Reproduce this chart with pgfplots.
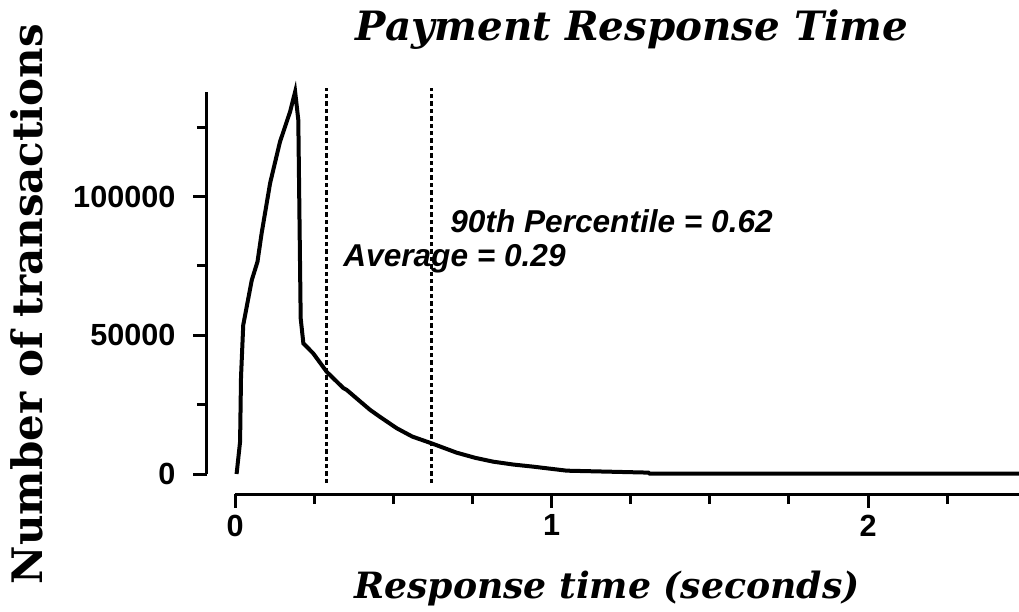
\documentclass[border=0pt]{standalone}
\usepackage{fontspec}
\setmainfont{Liberation Sans}
\newfontfamily\schfont{DejaVu Serif}
\usepackage{pgfplots}
\pgfplotsset{compat=1.18}
\begin{document}
\begin{tikzpicture}
\begin{axis}[
  at={(0,0)}, anchor=south west,
  scale only axis, width=406bp, height=201bp,
  xmin=-0.0885, xmax=2.477, ymin=-7207, ymax=137700,
  axis x line*=bottom, axis y line*=left,
  axis line style={line width=1.5bp, -},
  x axis line style={shorten <=14bp},
  y axis line style={shorten <=10bp},
  xtick={0,1,2}, ytick={0,50000,100000},
  minor xtick={0.25,0.5,0.75,1.25,1.5,1.75,2.25},
  minor ytick={25000,75000,125000},
  tick align=outside,
  major tick length=6.8bp, minor tick length=5bp,
  every tick/.style={line width=1.5bp, black},
  scaled y ticks=false,
  /pgf/number format/assume math mode=true,
  yticklabel style={/pgf/number format/fixed, /pgf/number format/1000 sep={}, xshift=-5.5bp},
  ticklabel style={font=\fontsize{15.3bp}{18bp}\selectfont\bfseries},
  clip=false,
]
\addplot[black, line width=2bp] coordinates {
(0.005,0) (0.016,11600) (0.019,35000) (0.026,53700) (0.037,60300) (0.053,69900)
(0.071,76500) (0.084,86700) (0.111,104900) (0.142,119700) (0.174,130600)
(0.190,137800) (0.200,127600) (0.2075,56100) (0.216,47100) (0.247,43500)
(0.290,36800) (0.342,31000) (0.353,30300) (0.395,26200) (0.427,23100)
(0.458,20600) (0.511,16500) (0.560,13500) (0.621,11060) (0.700,7700)
(0.760,5800) (0.816,4440) (0.880,3400) (0.943,2640) (1.048,1200) (1.306,500)
(1.310,150) (2.477,150)
};
\addplot[black, line width=1.5bp, dash pattern=on 2.2bp off 1.5bp] coordinates {(0.29,-3300) (0.29,139000)};
\addplot[black, line width=1.5bp, dash pattern=on 2.2bp off 1.5bp] coordinates {(0.62,-3300) (0.62,139000)};
\end{axis}
\node[anchor=base west, inner sep=0pt, font=\fontsize{15.8bp}{18bp}\selectfont\bfseries\itshape] at (68bp,113.5bp) {Average = 0.29};
\node[anchor=base west, inner sep=0pt, font=\fontsize{15.8bp}{18bp}\selectfont\bfseries\itshape] at (121.5bp,130.5bp) {90th Percentile = 0.62};
\node[anchor=base, inner sep=0pt, font=\fontsize{20.2bp}{23bp}\selectfont\schfont\bfseries\itshape] at (212.5bp,226.5bp) {Payment Response Time};
\node[anchor=base, inner sep=0pt, font=\fontsize{18.1bp}{21bp}\selectfont\schfont\bfseries\itshape] at (200bp,-52bp) {Response time (seconds)};
\node[anchor=base, inner sep=0pt, rotate=90, font=\fontsize{21bp}{24bp}\selectfont\schfont\bfseries] at (-82bp,95bp) {Number of transactions};
\pgfresetboundingbox
\path (-103.5bp,-59bp) rectangle (406bp,247bp);
\end{tikzpicture}
\end{document}
